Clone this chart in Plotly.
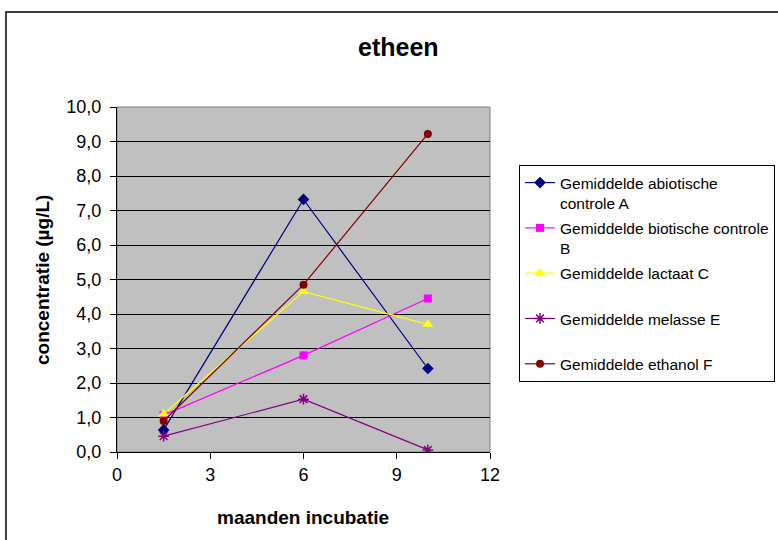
import plotly.graph_objects as go

months = [1.5, 6, 10]
series_names = [
    "Gemiddelde abiotische<br>controle A",
    "Gemiddelde biotische controle<br>B",
    "Gemiddelde lactaat C<br>\u00a0",
    "Gemiddelde melasse E<br>\u00a0",
    "Gemiddelde ethanol F",
]
abiotisch_A = [0.64, 7.32, 2.42]
biotisch_B = [1.07, 2.80, 4.45]
lactaat_C = [1.10, 4.65, 3.70]
melasse_E = [0.46, 1.53, 0.06]
ethanol_F = [0.90, 4.85, 9.22]

x_ticks = [0, 3, 6, 9, 12]
y_ticks = [0, 1, 2, 3, 4, 5, 6, 7, 8, 9, 10]
y_ticktext = [f"{v:.1f}".replace(".", ",") for v in y_ticks]

styles = [
    dict(color="#000080", symbol="diamond", size=9),
    dict(color="#FF00FF", symbol="square", size=8),
    dict(color="#FFFF00", symbol="triangle-up", size=10),
    dict(color="#800080", symbol="asterisk-open", size=9),
    dict(color="#800000", symbol="circle", size=8),
]
values = [abiotisch_A, biotisch_B, lactaat_C, melasse_E, ethanol_F]

fig = go.Figure()
for i, (name, vals, st) in enumerate(zip(series_names, values, styles)):
    fig.add_trace(go.Scatter(
        x=months, y=vals, name=name, mode="lines+markers",
        line=dict(color=st["color"], width=1.2),
        marker=dict(color=st["color"], symbol=st["symbol"], size=st["size"],
                    line=dict(color=st["color"], width=1.5 if st["symbol"] == "asterisk-open" else 0)),
        legendgroup=f"g{i}",
    ))

L, R, T, B = 117, 288, 107, 88
W, H = 778, 540
pw, ph = W - L - R, H - T - B

def px_x(px):
    return (px - L) / pw

def px_y(py):
    return (H - B - py) / ph

font = "Liberation Sans, Arial, sans-serif"

fig.update_layout(
    width=W, height=H,
    margin=dict(l=L, r=R, t=T, b=B, autoexpand=False),
    paper_bgcolor="white",
    plot_bgcolor="#C0C0C0",
    font=dict(family=font, color="black", size=18),
    showlegend=True,
    legend=dict(
        x=px_x(519), y=px_y(165), xanchor="left", yanchor="top",
        bordercolor="black", borderwidth=1, bgcolor="white",
        font=dict(size=15.5, family=font, color="black"),
        valign="top", tracegroupgap=2, itemwidth=30,
    ),
    xaxis=dict(
        range=[0, 12], tickvals=x_ticks, ticktext=[str(v) for v in x_ticks],
        showgrid=False, zeroline=False, showline=True, linecolor="black", linewidth=1,
        ticks="outside", ticklen=6, tickcolor="black", tickfont=dict(size=18),
        mirror=False,
    ),
    yaxis=dict(
        range=[0, 10], tickvals=y_ticks, ticktext=y_ticktext,
        showgrid=True, gridcolor="black", gridwidth=1, zeroline=False,
        showline=True, linecolor="black", linewidth=1,
        ticks="outside", ticklen=6, tickcolor="black", tickfont=dict(size=18),
        ticklabelstandoff=5,
    ),
    shapes=[
        dict(type="rect", xref="paper", yref="paper", x0=0, x1=1, y0=0, y1=1,
             line=dict(color="#808080", width=1), layer="below"),
        dict(type="rect", xref="paper", yref="paper",
             x0=px_x(6), x1=px_x(800), y0=px_y(560), y1=px_y(12),
             line=dict(color="black", width=1.5), fillcolor="rgba(0,0,0,0)"),
    ],
    annotations=[
        dict(text="<b>etheen</b>", xref="paper", yref="paper",
             x=px_x(398), y=px_y(47), showarrow=False, xanchor="center", yanchor="middle",
             font=dict(size=25, family=font)),
        dict(text="<b>maanden incubatie</b>", xref="paper", yref="paper",
             x=px_x(303), y=px_y(517), showarrow=False, xanchor="center", yanchor="middle",
             font=dict(size=19, family=font)),
        dict(text="<b>concentratie (µg/L)</b>", xref="paper", yref="paper",
             x=px_x(42), y=px_y(280), showarrow=False, xanchor="center", yanchor="middle",
             textangle=-90, font=dict(size=19, family=font)),
    ],
)

fig.write_html("out.html")
